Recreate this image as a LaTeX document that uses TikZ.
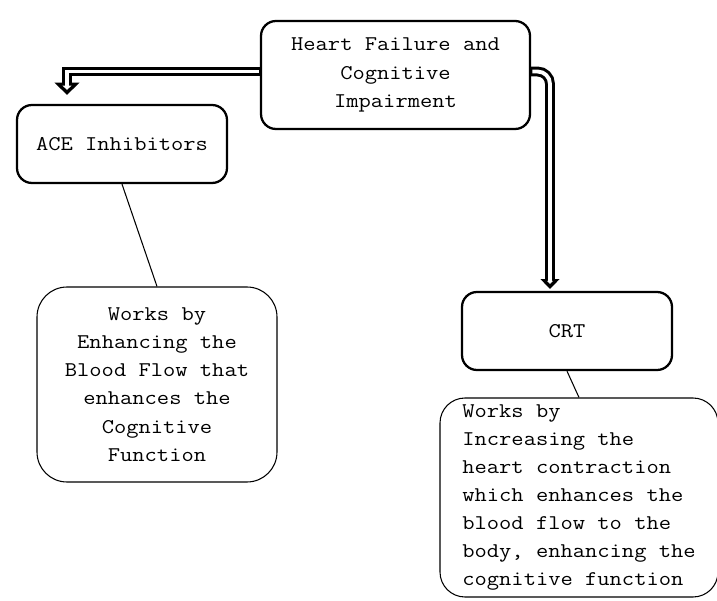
\documentclass[tikz,border=0pt]{standalone}
\usepackage{fontspec}
\setmonofont{Latin Modern Mono}[FakeStretch=1.14]
\usetikzlibrary{arrows.meta,positioning}

\begin{document}
\begin{tikzpicture}[
    font=\ttfamily\fontsize{11.9}{16}\selectfont,
    topic/.style={draw, line width=1.3pt, rounded corners=.3cm, align=center,
      inner sep=0pt},
    note/.style={draw, line width=.6pt, rounded corners=.6cm, inner sep=0pt},
    % hollow double arrow: black body, white core
    flow/.style n args={4}{line width=5.6pt, -{Triangle[width=#1, length=#2]},
      postaction={draw=white, line width=2.2pt, shorten <=.7pt, shorten >=2.8pt,
        -{Triangle[width=#3, length=#4]}}},
    link/.style={line width=.6pt}]
  \useasboundingbox (0,0) rectangle (14.34,12);
  \node [topic, minimum width=5.38cm, minimum height=2.16cm] at (7.91,10.5) (top)
    {Heart Failure and\\Cognitive\\Impairment};
  \node [topic, minimum width=4.2cm, minimum height=1.56cm] at (2.44,9.12) (ace)
    {ACE Inhibitors};
  \node [topic, minimum width=4.2cm, minimum height=1.56cm] at (11.34,5.38) (crt)
    {CRT};
  \node [note, align=center, minimum width=4.8cm, minimum height=3.9cm]
    at (3.14,4.31) (acenote)
    {Works by\\Enhancing the\\Blood Flow that\\enhances the\\Cognitive\\Function};
  \node [note, rounded corners=.5cm, align=left, minimum width=5.56cm,
    minimum height=3.98cm] at (11.58,2.05) (crtnote)
    {Works by\\Increasing the\\heart contraction\\which enhances the\\blood flow to the\\body, enhancing the\\cognitive function};
  % arrows from the top box
  \draw [flow={14pt}{7pt}{5pt}{2.5pt}] ([yshift=2pt]top.west)
    -| ([xshift=-1.1cm,yshift=.18cm]ace.north);
  \draw [flow={10.5pt}{5.5pt}{3.4pt}{1.8pt}, rounded corners=.25cm]
    ([yshift=2pt]top.east) -| ([xshift=-.34cm,yshift=.04cm]crt.north);
  \draw [link] (ace.south) -- (acenote.north);
  \draw [link] (crt.south) -- (crtnote.north);
\end{tikzpicture}
\end{document}
